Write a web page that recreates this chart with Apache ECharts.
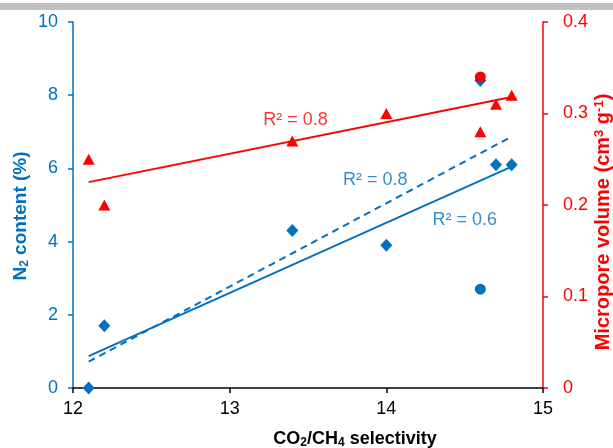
<!DOCTYPE html>
<html>
<head>
<meta charset="utf-8">
<script src="https://cdn.jsdelivr.net/npm/echarts@6/dist/echarts.min.js"></script>
<style>html,body{margin:0;padding:0;background:#fff;}#c{width:613px;height:448px;}</style>
</head>
<body>
<div id="c"></div>
<script>
// x: CO2/CH4 selectivity
const selectivity = [12.1, 12.2, 13.4, 14.0, 14.6, 14.7, 14.8];
// N2 content (%) – blue diamonds
const n2Content = [0, 1.7, 4.3, 3.9, 8.4, 6.1, 6.1];
// Micropore volume (cm3 g-1) – red triangles
const microVolume = [0.25, 0.20, 0.27, 0.30, 0.28, 0.31, 0.32];
// extra circle points
const blueCircle = [[14.6, 2.7]];
const redCircle = [[14.6, 0.34]];
// trend lines (endpoints)
const trendRed = [[12.1, 0.225], [14.8, 0.318]];
const trendBlueSolid = [[12.1, 0.87], [14.8, 6.05]];
const trendBlueDashed = [[12.1, 0.72], [14.8, 6.87]];
// annotations
const labelRed = [{ value: [13.42, 0.293], name: 'R² = 0.8' }];
const labelBlue = [{ value: [13.93, 5.68], name: 'R² = 0.8' }, { value: [14.5, 4.59], name: 'R² = 0.6' }];

const BLUE = '#0070C0', RED = '#FF0000';
const FONT = 'Liberation Sans, Arial, sans-serif';

const zip = (xs, ys) => xs.map((x, i) => [x, ys[i]]);

const chart = echarts.init(document.getElementById('c'), null, { renderer: 'canvas' });
chart.setOption({
  animation: false,
  textStyle: { fontFamily: FONT },
  graphic: [{ type: 'rect', shape: { x: 0, y: 3, width: 613, height: 7 }, style: { fill: '#c0c0c0' }, silent: true }],
  grid: { left: 73, right: 70, top: 22, bottom: 60, containLabel: false, outerBoundsMode: 'none' },
  xAxis: {
    type: 'value', min: 12, max: 15, interval: 1,
    splitLine: { show: false },
    axisLine: { show: true, lineStyle: { color: '#000', width: 1.5 } },
    axisTick: { show: true, length: 5, lineStyle: { color: '#000', width: 1.5 } },
    axisLabel: { color: '#000', fontSize: 18, margin: 12, fontFamily: FONT },
    name: '{b|CO}{s|2}{b|/CH}{s|4}{b| selectivity}',
    nameLocation: 'middle', nameGap: 41, nameMoveOverlap: false,
    nameTextStyle: {
      padding: [0, 0, 0, 94],
      rich: {
        b: { fontSize: 18, fontWeight: 'bold', color: '#000', fontFamily: FONT, lineHeight: 20 },
        s: { fontSize: 12, fontWeight: 'bold', color: '#000', fontFamily: FONT, lineHeight: 20, verticalAlign: 'bottom', padding: [8, 0, 0, 0] }
      }
    }
  },
  yAxis: [{
    type: 'value', min: 0, max: 10, interval: 2, position: 'left',
    splitLine: { show: false },
    axisLine: { show: true, lineStyle: { color: BLUE, width: 1.5 } },
    axisTick: { show: true, length: 5, lineStyle: { color: BLUE, width: 1.5 } },
    axisLabel: { color: BLUE, fontSize: 18, margin: 15, fontFamily: FONT },
    name: '{b|N}{s|2}{b| content (%)}',
    nameLocation: 'middle', nameGap: 42, nameRotate: 90, nameMoveOverlap: false,
    nameTextStyle: {
      padding: [0, 22, 0, 0],
      rich: {
        b: { fontSize: 19, fontWeight: 'bold', color: BLUE, fontFamily: FONT, lineHeight: 20 },
        s: { fontSize: 12, fontWeight: 'bold', color: BLUE, fontFamily: FONT, lineHeight: 20, verticalAlign: 'bottom', padding: [8, 0, 0, 0] }
      }
    }
  }, {
    type: 'value', min: 0, max: 0.4, interval: 0.1, position: 'right',
    splitLine: { show: false },
    axisLine: { show: true, lineStyle: { color: RED, width: 1.5 } },
    axisTick: { show: true, length: 5, lineStyle: { color: RED, width: 1.5 } },
    axisLabel: { color: RED, fontSize: 18, margin: 20, fontFamily: FONT },
    name: '{b|Micropore volume (cm}{p|3}{b| g}{p|-1}{b|)}',
    nameLocation: 'middle', nameGap: 50, nameRotate: 90, nameMoveOverlap: false,
    nameTextStyle: {
      padding: [0, 34, 0, 0],
      rich: {
        b: { fontSize: 20, fontWeight: 'bold', color: RED, fontFamily: FONT, lineHeight: 20 },
        p: { fontSize: 13, fontWeight: 'bold', color: RED, fontFamily: FONT, lineHeight: 20, verticalAlign: 'top', padding: [0, 0, 8, 0] }
      }
    }
  }],
  series: [
    { type: 'line', data: trendBlueDashed, showSymbol: false, yAxisIndex: 0,
      lineStyle: { color: BLUE, width: 2, type: [7, 5] }, z: 2 },
    { type: 'line', data: trendBlueSolid, showSymbol: false, yAxisIndex: 0,
      lineStyle: { color: BLUE, width: 2 }, z: 2 },
    { type: 'line', data: trendRed, showSymbol: false, yAxisIndex: 1,
      lineStyle: { color: RED, width: 2 }, z: 2 },
    { type: 'scatter', data: zip(selectivity, n2Content), yAxisIndex: 0, symbol: 'diamond', symbolSize: [12, 13],
      itemStyle: { color: BLUE, opacity: 1 }, z: 3 },
    { type: 'scatter', data: blueCircle, yAxisIndex: 0, symbol: 'circle', symbolSize: 11,
      itemStyle: { color: BLUE, opacity: 1 }, z: 3 },
    { type: 'scatter', data: zip(selectivity, microVolume), yAxisIndex: 1, symbol: 'triangle', symbolSize: [12, 11],
      itemStyle: { color: RED, opacity: 1 }, z: 4 },
    { type: 'scatter', data: redCircle, yAxisIndex: 1, symbol: 'circle', symbolSize: 11,
      itemStyle: { color: RED, opacity: 1 }, z: 5 },
    { type: 'scatter', data: labelRed, yAxisIndex: 1, symbolSize: 0, silent: true,
      label: { show: true, position: 'inside', formatter: '{b}', color: RED, fontSize: 18, fontFamily: FONT }, z: 6 },
    { type: 'scatter', data: labelBlue, yAxisIndex: 0, symbolSize: 0, silent: true,
      label: { show: true, position: 'inside', formatter: '{b}', color: BLUE, fontSize: 18, fontFamily: FONT }, z: 6 }
  ]
});
</script>
</body>
</html>
